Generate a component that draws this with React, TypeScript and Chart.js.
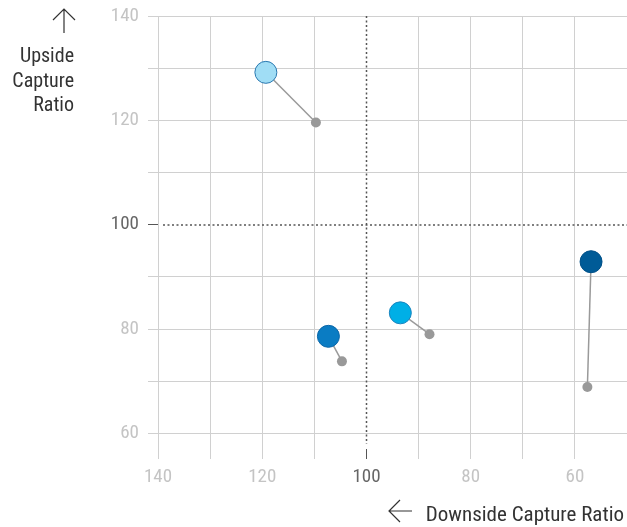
import React, { useEffect, useRef } from "react";
import { Chart, registerables } from "chart.js";

Chart.register(...registerables);

// Downside capture ratio (x) and upside capture ratio (y)
const downsideCurrent = [119.3, 107.3, 93.5, 56.9];
const upsideCurrent = [129.2, 78.6, 83.1, 92.9];
const downsidePrevious = [109.7, 104.7, 87.9, 57.6];
const upsidePrevious = [119.6, 73.8, 79.0, 68.9];
const fillColors = ["#a0ddf5", "#0a7cc3", "#00afe6", "#005b97"];
const edgeColors = ["#2a78b0", "#0a66a8", "#1a85bf", "#005088"];
const xTicks = [140, 130, 120, 110, 100, 90, 80, 70, 60, 50];
const yTicks = [60, 70, 80, 90, 100, 110, 120, 130, 140];
const xTitle = "Downside Capture Ratio";
const yTitle = ["Upside", "Capture", "Ratio"];

const FONT = "'Roboto Condensed', Roboto, sans-serif";
const GRID = "#d0d0d0";
const DARK = "#555555";

const overlay = {
  id: "overlay",
  beforeDatasetsDraw(chart: any) {
    const { ctx, chartArea, scales } = chart;
    const x100 = scales.x.getPixelForValue(100);
    const y100 = scales.y.getPixelForValue(100);
    ctx.save();
    ctx.strokeStyle = DARK;
    ctx.lineWidth = 1.5;
    ctx.setLineDash([2, 2.5]);
    ctx.beginPath();
    ctx.moveTo(Math.round(x100) + 0.5, chartArea.top);
    ctx.lineTo(Math.round(x100) + 0.5, chartArea.bottom - 5);
    ctx.moveTo(chartArea.left + 5, Math.round(y100));
    ctx.lineTo(chartArea.right, Math.round(y100));
    ctx.stroke();
    ctx.restore();
  },
  afterDraw(chart: any) {
    const { ctx } = chart;
    ctx.save();
    ctx.fillStyle = "#333333";
    ctx.strokeStyle = "#333333";
    ctx.lineWidth = 1.2;
    ctx.font = "20px " + FONT;
    ctx.textAlign = "right";
    ctx.textBaseline = "alphabetic";
    yTitle.forEach((line, i) => ctx.fillText(line, 74, 62 + i * 24.7));
    // up arrow
    ctx.beginPath();
    ctx.moveTo(64, 9);
    ctx.lineTo(64, 33);
    ctx.moveTo(53, 20);
    ctx.lineTo(64, 9);
    ctx.lineTo(75, 20);
    ctx.stroke();
    // x title
    ctx.font = "21px " + FONT;
    ctx.fillText(xTitle, 624, 521);
    ctx.beginPath();
    ctx.moveTo(412, 511);
    ctx.lineTo(389, 511);
    ctx.moveTo(400, 500);
    ctx.lineTo(389, 511);
    ctx.lineTo(400, 522);
    ctx.stroke();
    ctx.restore();
  },
};

export default function App() {
  const ref = useRef<HTMLCanvasElement | null>(null);
  useEffect(() => {
    if (!ref.current) return;
    const datasets = downsideCurrent.map((_, i) => ({
      data: [
        { x: downsidePrevious[i], y: upsidePrevious[i] },
        { x: downsideCurrent[i], y: upsideCurrent[i] },
      ],
      showLine: true,
      borderColor: "#9a9a9a",
      borderWidth: 1.5,
      pointRadius: [5, 11],
      pointBackgroundColor: ["#999999", fillColors[i]],
      pointBorderColor: ["#999999", edgeColors[i]],
      pointBorderWidth: [0, 1],
      clip: false as any,
    }));
    const tickColor = (c: any) => (c.tick && c.tick.value === 100 ? "#666666" : "#c4c4c4");
    const chart = new Chart(ref.current, {
      type: "scatter",
      data: { datasets },
      options: {
        animation: false,
        responsive: false,
        layout: { autoPadding: false, padding: { top: 16, left: 0, right: 0, bottom: 0 } },
        plugins: { legend: { display: false }, tooltip: { enabled: false } },
        scales: {
          x: {
            type: "linear",
            reverse: true,
            min: 50,
            max: 140,
            afterBuildTicks: (s: any) => {
              s.ticks = xTicks.map((v) => ({ value: v }));
            },
            afterFit: (s: any) => {
              s.height = 78;
              s.paddingLeft = 0;
              s.paddingRight = 0;
              s.paddingTop = 0;
              s.paddingBottom = 0;
            },
            border: { display: false },
            grid: {
              color: (c: any) => (c.tick && c.tick.value === 100 ? "rgba(0,0,0,0)" : GRID),
              tickColor: (c: any) => (c.tick && c.tick.value === 100 ? DARK : GRID),
              tickLength: 10,
              lineWidth: 1,
            },
            ticks: {
              padding: 7,
              color: tickColor,
              font: { family: FONT, size: 19 },
              callback: (v: any) => (Number(v) % 20 === 0 ? String(v) : ""),
              maxRotation: 0,
              autoSkip: false,
            },
          },
          y: {
            type: "linear",
            min: 57,
            max: 140,
            afterBuildTicks: (s: any) => {
              s.ticks = yTicks.map((v) => ({ value: v }));
            },
            afterFit: (s: any) => {
              s.width = 158;
              s.paddingLeft = 0;
              s.paddingRight = 0;
              s.paddingTop = 0;
              s.paddingBottom = 0;
            },
            border: { display: false },
            grid: {
              color: (c: any) => (c.tick && c.tick.value === 100 ? "rgba(0,0,0,0)" : GRID),
              tickColor: (c: any) => (c.tick && c.tick.value === 100 ? DARK : GRID),
              tickLength: 10,
              lineWidth: 1,
            },
            ticks: {
              padding: 9,
              color: tickColor,
              font: { family: FONT, size: 19 },
              callback: (v: any) => (Number(v) % 20 === 0 ? String(v) : ""),
              autoSkip: false,
            },
          },
        },
      },
      plugins: [overlay],
    });
    return () => chart.destroy();
  }, []);
  return (
    <div style={{ position: "absolute", left: 0, top: 0, width: 627, height: 527 }}>
      <canvas ref={ref} width={627} height={527} style={{ display: "block" }} />
    </div>
  );
}
